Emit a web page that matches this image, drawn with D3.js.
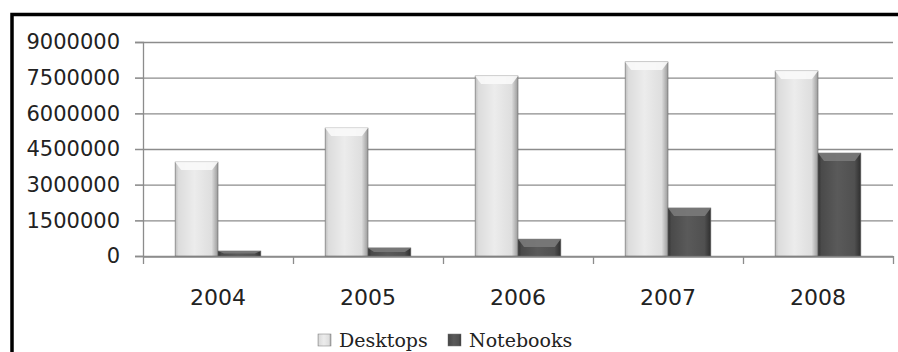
<!DOCTYPE html>
<html lang="en">
<head>
<meta charset="utf-8">
<title>Desktops vs Notebooks</title>
<script src="https://cdn.jsdelivr.net/npm/d3@7"></script>
<style>
  html, body { margin: 0; padding: 0; background: #fff; }
  svg { display: block; }
</style>
</head>
<body>
<div id="chart"></div>
<script>
// data
var years = ["2004", "2005", "2006", "2007", "2008"];
var seriesNames = ["Desktops", "Notebooks"];
var desktops = [3950000, 5380000, 7570000, 8160000, 7780000];
var notebooks = [210000, 340000, 710000, 2020000, 4330000];
var yTicks = [0, 1500000, 3000000, 4500000, 6000000, 7500000, 9000000];

var W = 898, H = 352;
var plot = {left: 143, right: 893, top: 42, bottom: 256};

var svg = d3.select("#chart").append("svg")
  .attr("width", W).attr("height", H);

// gradients
var defs = svg.append("defs");
function grad(id, stops) {
  var g = defs.append("linearGradient").attr("id", id)
    .attr("x1", "0%").attr("x2", "100%").attr("y1", "0%").attr("y2", "0%");
  stops.forEach(function(s) {
    g.append("stop").attr("offset", s[0]).attr("stop-color", s[1]);
  });
}
grad("gDesk", [["0%", "#bdbdbd"], ["8%", "#dcdcdc"], ["45%", "#ececec"], ["85%", "#dedede"], ["100%", "#9a9a9a"]]);
grad("gNote", [["0%", "#333"], ["8%", "#4a4a4a"], ["45%", "#5a5a5a"], ["85%", "#505050"], ["100%", "#2e2e2e"]]);

var fills = {Desktops: "url(#gDesk)", Notebooks: "url(#gNote)"};
var tops = {Desktops: "#fafafa", Notebooks: "#7a7a7a"};

// frame
svg.append("rect")
  .attr("x", 12).attr("y", 14.5).attr("width", 960).attr("height", 400)
  .attr("fill", "#fff").attr("stroke", "#000").attr("stroke-width", 3.5);

var x0 = d3.scaleBand().domain(years).range([plot.left, plot.right]).padding(0);
var x1 = d3.scaleBand().domain(seriesNames).range([0, x0.bandwidth()])
  .paddingInner(0).paddingOuter(0.75);
var y = d3.scaleLinear().domain([0, 9000000]).range([plot.bottom, plot.top]);

// gridlines
svg.append("g").selectAll("line").data(yTicks).enter().append("line")
  .attr("x1", plot.left - 8).attr("x2", plot.right)
  .attr("y1", function(d) { return y(d) + 0.5; })
  .attr("y2", function(d) { return y(d) + 0.5; })
  .attr("stroke", "#8c8c8c").attr("stroke-width", 1.3);

// y axis
var yAxis = svg.append("g")
  .attr("transform", "translate(" + plot.left + ",0)")
  .call(d3.axisLeft(y).tickValues(yTicks).tickSize(8).tickPadding(15)
    .tickFormat(d3.format("d")));
yAxis.select(".domain").attr("stroke", "#8c8c8c").attr("stroke-width", 1.3);
yAxis.selectAll(".tick line").attr("stroke", "#8c8c8c");
yAxis.selectAll("text")
  .attr("font-family", "DejaVu Sans").attr("font-size", "21px")
  .attr("fill", "#222");

// x axis
var xAxis = svg.append("g")
  .attr("transform", "translate(0," + (plot.bottom + 0.5) + ")")
  .call(d3.axisBottom(x0).tickSize(0).tickPadding(33));
xAxis.select(".domain").attr("stroke", "#8c8c8c").attr("stroke-width", 1.3);
xAxis.selectAll("text")
  .attr("font-family", "DejaVu Sans").attr("font-size", "22px")
  .attr("fill", "#222");
// boundary ticks between categories
var bounds = years.map(function(d) { return x0(d); }).concat([plot.right]);
svg.append("g").selectAll("line").data(bounds).enter().append("line")
  .attr("x1", function(d) { return d + 0.5; }).attr("x2", function(d) { return d + 0.5; })
  .attr("y1", plot.bottom).attr("y2", plot.bottom + 8)
  .attr("stroke", "#8c8c8c").attr("stroke-width", 1.3);

// bars
var rows = years.map(function(yr, i) {
  return {year: yr, vals: [
    {name: "Desktops", v: desktops[i]},
    {name: "Notebooks", v: notebooks[i]}
  ]};
});

var groups = svg.append("g").selectAll("g").data(rows).enter().append("g")
  .attr("transform", function(d) { return "translate(" + x0(d.year) + ",0)"; });

var bars = groups.selectAll("g").data(function(d) { return d.vals; }).enter().append("g");

bars.append("rect")
  .attr("x", function(d) { return x1(d.name); })
  .attr("y", function(d) { return y(d.v); })
  .attr("width", x1.bandwidth())
  .attr("height", function(d) { return y(0) - y(d.v); })
  .attr("fill", function(d) { return fills[d.name]; })
  .attr("stroke", "#6a6a6a").attr("stroke-width", 0.6);

// top bevel highlight
bars.append("path")
  .attr("d", function(d) {
    var xa = x1(d.name), w = x1.bandwidth(), t = y(d.v);
    var h = Math.min(8, (y(0) - t) / 2);
    return "M" + xa + "," + t + "L" + (xa + w) + "," + t +
      "L" + (xa + w - 6) + "," + (t + h) + "L" + (xa + 6) + "," + (t + h) + "Z";
  })
  .attr("fill", function(d) { return tops[d.name]; })
  .attr("opacity", 0.9);

// legend
var legend = svg.append("g").attr("transform", "translate(318,334)");
var lx = [0, 130];
seriesNames.forEach(function(name, i) {
  var g = legend.append("g").attr("transform", "translate(" + lx[i] + ",0)");
  g.append("rect").attr("x", 0).attr("y", 0).attr("width", 13).attr("height", 12)
    .attr("fill", fills[name]).attr("stroke", "#777").attr("stroke-width", 0.5);
  g.append("text").attr("x", 21).attr("y", 13)
    .attr("font-family", "DejaVu Serif").attr("font-size", "19px")
    .attr("fill", "#222").text(name);
});
</script>
</body>
</html>
